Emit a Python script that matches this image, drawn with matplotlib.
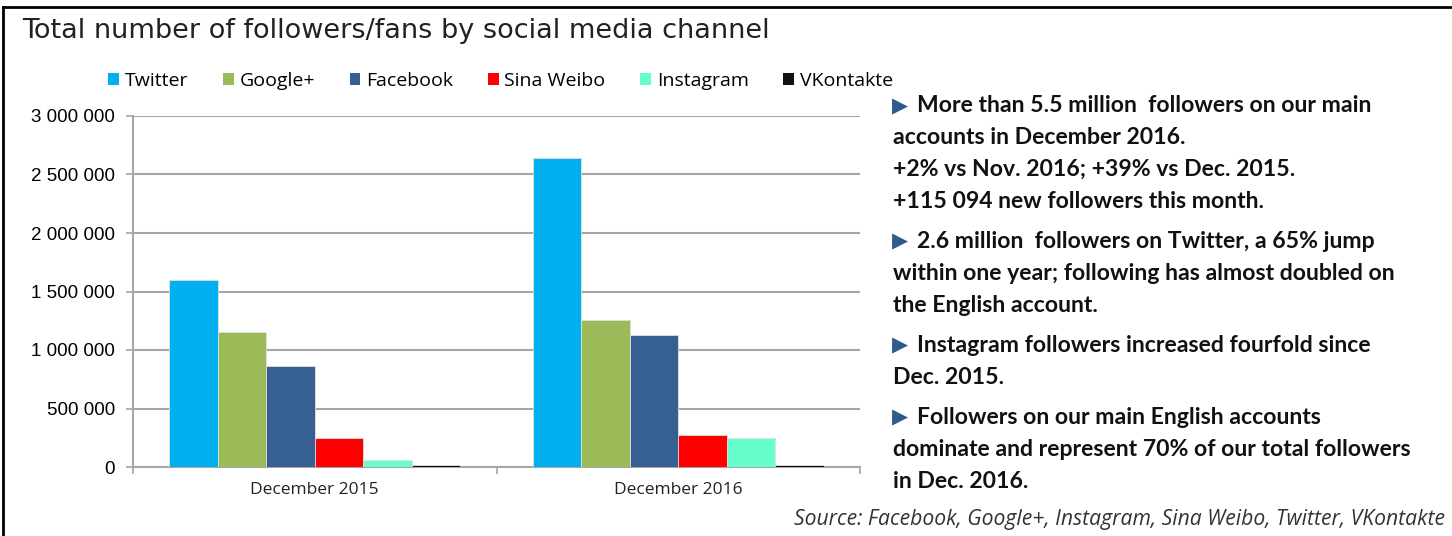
import matplotlib.pyplot as plt
import numpy as np
from matplotlib.lines import Line2D
from matplotlib.patches import Patch

categories = ["December 2015", "December 2016"]
channels = ["Twitter", "Google+", "Facebook", "Sina Weibo", "Instagram", "VKontakte"]
twitter = [1595000, 2640000]
google = [1158000, 1260000]
facebook = [860000, 1132000]
sina_weibo = [251000, 273000]
instagram = [62000, 248000]
vkontakte = [14000, 14000]
yticks = [0, 500000, 1000000, 1500000, 2000000, 2500000, 3000000]
colors = ["#00B0F0", "#9BBB59", "#366092", "#FF0000", "#66FFCC", "#111111"]

bullets = [
    ["More than 5.5 million  followers on our main",
     "accounts in December 2016.",
     "+2% vs Nov. 2016; +39% vs Dec. 2015.",
     "+115 094 new followers this month."],
    ["2.6 million  followers on Twitter, a 65% jump",
     "within one year; following has almost doubled on",
     "the English account."],
    ["Instagram followers increased fourfold since",
     "Dec. 2015."],
    ["Followers on our main English accounts",
     "dominate and represent 70% of our total followers",
     "in Dec. 2016."],
]

fig = plt.figure(figsize=(14.52, 5.36), dpi=100)
W, H = 1452, 536
ax = fig.add_axes([133 / W, 1 - 467 / H, 727 / W, 351 / H])

series = [twitter, google, facebook, sina_weibo, instagram, vkontakte]
x = np.arange(len(categories))
w = 0.8 / len(series)
for i, vals in enumerate(series):
    ax.bar(x + (i - 2.5) * w, vals, w, color=colors[i], edgecolor="#E0E0E0",
           linewidth=0.6, zorder=3, label=channels[i])

ax.set_xlim(-0.5, 1.5)
ax.set_ylim(0, 3000000)
ax.set_yticks(yticks)
ax.set_yticklabels([f"{v:,}".replace(",", " ") for v in yticks],
                   fontfamily="Liberation Sans", fontsize=13.5)
ax.yaxis.grid(True, color="#A6A6A6", linewidth=1.5, zorder=0)
ax.tick_params(axis="y", length=5, color="#A6A6A6", width=1.2, pad=8)
ax.set_xticks(x)
ax.set_xticklabels(categories, fontfamily="Open Sans", fontsize=12.5, color="#222222")
ax.set_xticks([-0.5, 0.5, 1.5], minor=True)
ax.tick_params(axis="x", which="major", length=0, pad=11)
ax.tick_params(axis="x", which="minor", length=5, color="#A6A6A6", width=1.2)
for s in ["top", "right"]:
    ax.spines[s].set_visible(False)
for s in ["left", "bottom"]:
    ax.spines[s].set_color("#A6A6A6")
    ax.spines[s].set_linewidth(1.5)

handles = [Patch(facecolor=c, edgecolor="none") for c in colors]
fig.legend(handles, channels, loc="center left", bbox_to_anchor=(91 / W, 1 - 81 / H),
           ncol=6, frameon=False, handlelength=0.55, handleheight=0.55, handletextpad=0.3,
           columnspacing=1.78, prop={"family": "Open Sans", "size": 14})

fig.text(22 / W, 1 - 31 / H, "Total number of followers/fans by social media channel",
         fontfamily="DejaVu Sans", fontsize=19.5, color="#222222", va="center")

y = 106
for b in bullets:
    fig.text(892 / W, 1 - y / H, "\u25B6", color="#2E5A8C", fontsize=15,
             fontfamily="DejaVu Sans", va="center")
    for j, line in enumerate(b):
        x0 = 917 if j == 0 else 893
        fig.text(x0 / W, 1 - y / H, line, fontfamily="Lato",
                 fontweight="bold", fontsize=16.6, color="#111111", va="center")
        y += 31.8
    y += 8.5

fig.text(1445 / W, 1 - 519 / H,
         "Source: Facebook, Google+, Instagram, Sina Weibo, Twitter, VKontakte",
         fontfamily="Open Sans", style="italic", fontsize=15.2, color="#333333",
         ha="right", va="center")

fig.add_artist(Line2D([3 / W, 1], [1 - 7 / H, 1 - 7 / H], color="black", linewidth=2))
fig.add_artist(Line2D([3 / W, 3 / W], [0, 1 - 7 / H], color="black", linewidth=2))

fig.savefig("out.png", dpi=100)
